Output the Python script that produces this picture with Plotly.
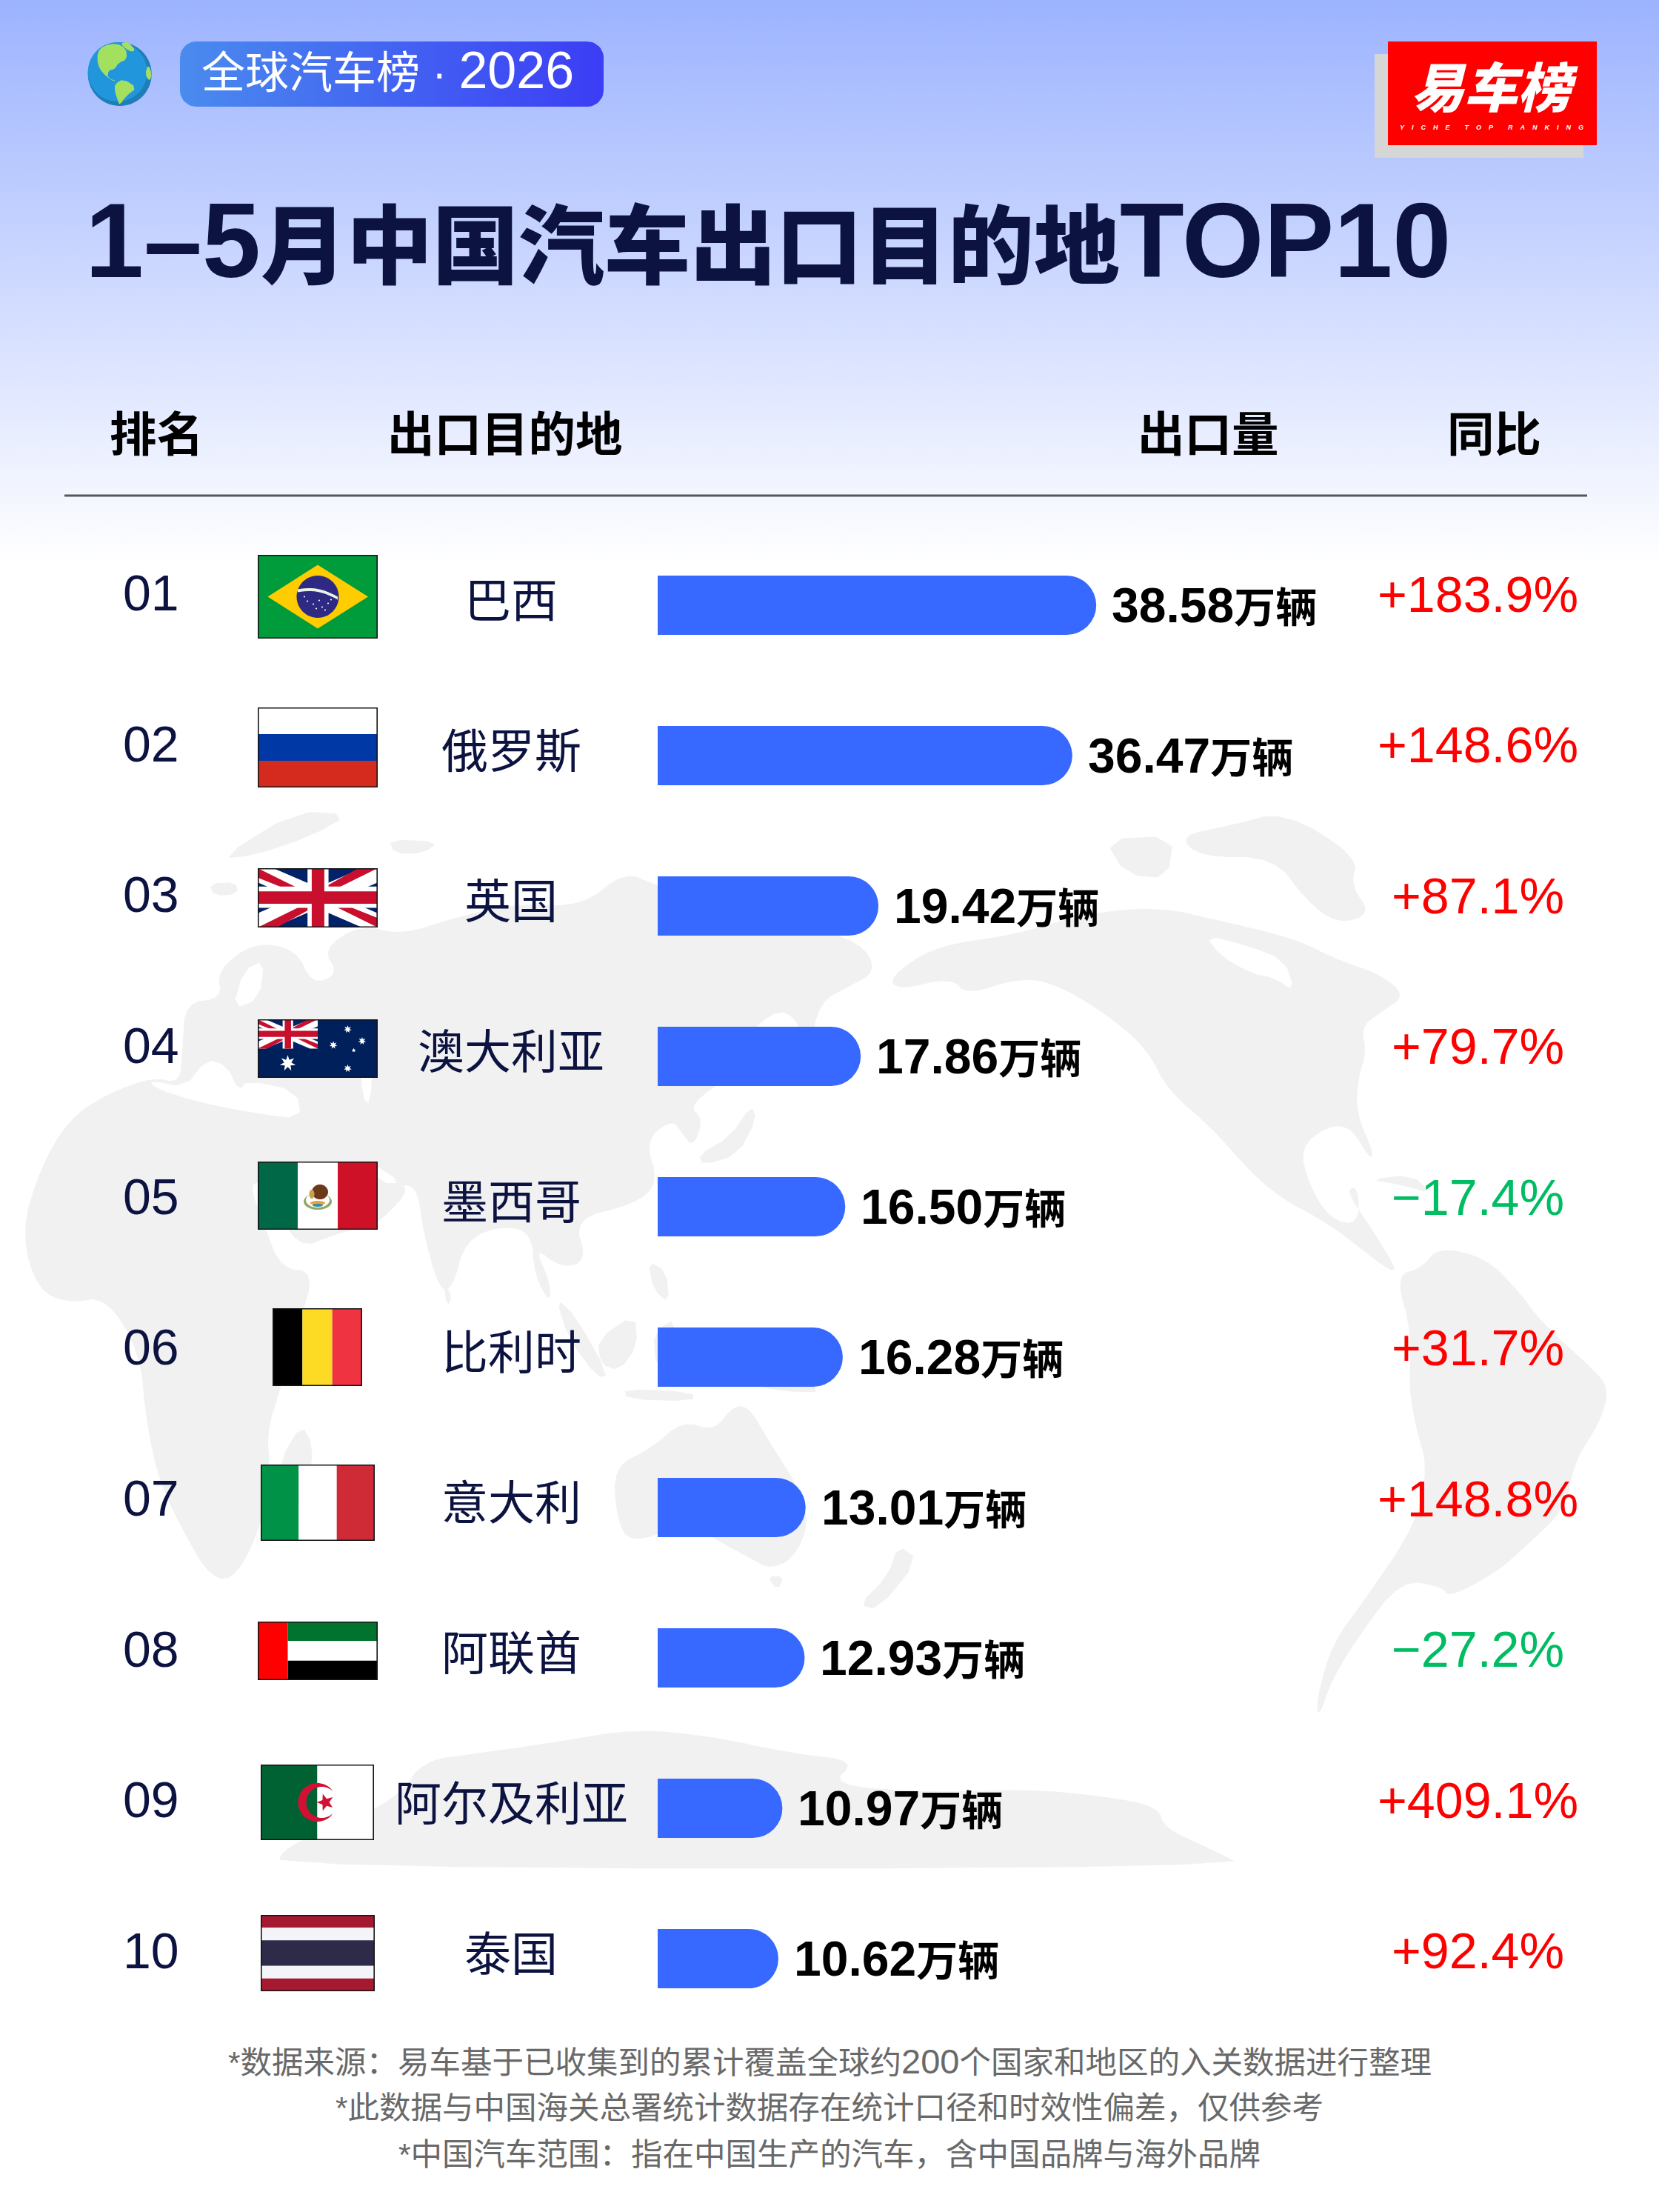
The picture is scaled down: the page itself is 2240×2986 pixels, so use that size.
import math
import plotly.graph_objects as go

# ---- data ----
ranks = ["01", "02", "03", "04", "05", "06", "07", "08", "09", "10"]
countries = ["巴西", "俄罗斯", "英国", "澳大利亚", "墨西哥", "比利时", "意大利", "阿联酋", "阿尔及利亚", "泰国"]
volumes = [38.58, 36.47, 19.42, 17.86, 16.50, 16.28, 13.01, 12.93, 10.97, 10.62]
yoy_change = [183.9, 148.6, 87.1, 79.7, -17.4, 31.7, 148.8, -27.2, 409.1, 92.4]
columns = ["排名", "出口目的地", "出口量", "同比"]
footnotes = [
    "*数据来源：易车基于已收集到的累计覆盖全球约<span style='font-size:47px'>200</span>个国家和地区的入关数据进行整理",
    "*此数据与中国海关总署统计数据存在统计口径和时效性偏差，仅供参考",
    "*中国汽车范围：指在中国生产的汽车，含中国品牌与海外品牌",
]

W, H = 2240, 2986
FONT = '"Liberation Sans","Noto Sans CJK SC",sans-serif'
NAVY = "#0C1340"
BLUE = "#3768FF"
UP, DOWN = "#FF0000", "#00BC62"

# one bar row is 203 px tall, one export unit is 15.35 px wide
X0, X_SCALE = 888.0, 15.35
Y0, ROW = 817.0, 203.0


def dx(px):
    return (px - X0) / X_SCALE


def dy(py):
    return (py - Y0) / ROW


def nx(px):
    return px / W


def ny(py):
    return 1 - py / H


shapes = []


def poly(points, color):
    path = "M " + " L ".join(f"{nx(x):.5f},{ny(y):.5f}" for x, y in points) + " Z"
    shapes.append(dict(type="path", path=path, xref="paper", yref="paper",
                       fillcolor=color, line=dict(width=0), layer="above"))


def ellipse(cx, cy, rx, ry, color, a0=0.0, a1=360.0, n=48):
    pts = [(cx + rx * math.cos(math.radians(a0 + (a1 - a0) * i / n)),
            cy + ry * math.sin(math.radians(a0 + (a1 - a0) * i / n))) for i in range(n + 1)]
    poly(pts, color)


class Box:
    """Maps 0..1 fractions onto a rectangle of the page."""

    def __init__(self, x0, y0, x1, y1):
        self.x0, self.y0, self.x1, self.y1 = x0, y0, x1, y1

    def p(self, u, v):
        return (self.x0 + (self.x1 - self.x0) * u, self.y0 + (self.y1 - self.y0) * v)

    def quad(self, u0, v0, u1, v1, color):
        poly([self.p(u0, v0), self.p(u1, v0), self.p(u1, v1), self.p(u0, v1)], color)

    def pts(self, uv, color):
        poly([self.p(u, v) for u, v in uv], color)


def star(cx, cy, r, color, spikes=5, inner=0.42, rot=-90):
    pts = []
    for i in range(spikes * 2):
        rad = r if i % 2 == 0 else r * inner
        a = math.radians(rot + i * 180 / spikes)
        pts.append((cx + rad * math.cos(a), cy + rad * math.sin(a)))
    poly(pts, color)


def union_jack(b):
    navy, red = "#012169", "#C8102E"
    b.quad(0, 0, 1, 1, navy)
    b.pts([(0, 0), (.13, 0), (1, .76), (1, 1), (.87, 1), (0, .24)], "#FFFFFF")
    b.pts([(1, 0), (.87, 0), (0, .76), (0, 1), (.13, 1), (1, .24)], "#FFFFFF")
    b.pts([(0, 0), (.5, .5), (.42, .5), (0, .16)], red)
    b.pts([(1, 1), (.5, .5), (.58, .5), (1, .84)], red)
    b.pts([(1, 0), (.5, .5), (.5, .38), (.84, 0)], red)
    b.pts([(0, 1), (.5, .5), (.5, .62), (.16, 1)], red)
    b.quad(.415, 0, .59, 1, "#FFFFFF")
    b.quad(0, .31, 1, .67, "#FFFFFF")
    b.quad(.45, 0, .555, 1, red)
    b.quad(0, .39, 1, .6, red)


def flag_frame(x0, y0, x1, y1):
    t = 1.6
    for a in ([(x0, y0), (x1, y0), (x1, y0 + t), (x0, y0 + t)],
              [(x0, y1 - t), (x1, y1 - t), (x1, y1), (x0, y1)],
              [(x0, y0), (x0 + t, y0), (x0 + t, y1), (x0, y1)],
              [(x1 - t, y0), (x1, y0), (x1, y1), (x1 - t, y1)]):
        poly(a, "#151515")


def flag_brazil(b):
    b.quad(0, 0, 1, 1, "#009B3A")
    b.pts([(.083, .5), (.5, .12), (.92, .5), (.5, .88)], "#FFCC00")
    cx, cy = b.p(.5, .5)
    ellipse(cx, cy, 28.5, 28.5, "#2E2A84")
    arc = [(cx - 27 + 54 * i / 12, cy - 10 + 10 * (i / 12) ** 2 * 1.0 + (-3 * math.sin(math.pi * i / 12))) for i in range(13)]
    poly(arc + [(x, y + 4) for x, y in reversed(arc)], "#E9F3E6")
    for ox, oy in [(-14, 6), (-6, 10), (2, 5), (6, 14), (14, 9), (-2, 16), (10, 18), (-18, 0), (18, 4)]:
        ellipse(cx + ox, cy + oy, 1.1, 1.1, "#FFFFFF", n=8)


def flag_russia(b):
    b.quad(0, 0, 1, 1 / 3, "#FFFFFF")
    b.quad(0, 1 / 3, 1, 2 / 3, "#0039A6")
    b.quad(0, 2 / 3, 1, 1, "#D52B1E")


def flag_uk(b):
    union_jack(b)


def flag_australia(b):
    b.quad(0, 0, 1, 1, "#00205B")
    union_jack(Box(b.x0, b.y0, b.x0 + (b.x1 - b.x0) * .5, b.y0 + (b.y1 - b.y0) * .5))
    white = "#FFFFFF"
    for u, v, r, n in [(.25, .75, 11, 7), (.75, .17, 5.5, 7), (.63, .44, 5.5, 7), (.87, .37, 5.5, 7),
                       (.80, .53, 3, 5), (.75, .84, 5.5, 7)]:
        x, y = b.p(u, v)
        star(x, y, r, white, spikes=n, inner=.45)


def flag_mexico(b):
    b.quad(0, 0, 1 / 3, 1, "#006847")
    b.quad(1 / 3, 0, 2 / 3, 1, "#FFFFFF")
    b.quad(2 / 3, 0, 1, 1, "#CE1126")
    cx, cy = b.p(.5, .5)
    ellipse(cx, cy + 8, 19, 11, "#93A768")
    ellipse(cx, cy + 6, 16, 10, "#FFFFFF")
    ellipse(cx, cy + 10, 10, 3, "#E8A33A")
    ellipse(cx, cy + 13, 7, 2, "#2E8FA8")
    ellipse(cx + 3, cy - 5, 11, 10, "#6B3A1A")
    ellipse(cx - 8, cy - 2, 3.5, 6, "#C9A24A")


def flag_belgium(b):
    b.quad(0, 0, 1 / 3, 1, "#000000")
    b.quad(1 / 3, 0, 2 / 3, 1, "#FDDA24")
    b.quad(2 / 3, 0, 1, 1, "#EF3340")


def flag_italy(b):
    b.quad(0, 0, 1 / 3, 1, "#009246")
    b.quad(1 / 3, 0, 2 / 3, 1, "#FFFFFF")
    b.quad(2 / 3, 0, 1, 1, "#CE2B37")


def flag_uae(b):
    b.quad(.25, 0, 1, 1 / 3, "#00732F")
    b.quad(.25, 1 / 3, 1, 2 / 3, "#FFFFFF")
    b.quad(.25, 2 / 3, 1, 1, "#000000")
    b.quad(0, 0, .25, 1, "#FF0000")


def flag_algeria(b):
    red = "#D21034"
    b.quad(0, 0, .5, 1, "#006233")
    b.quad(.5, 0, 1, 1, "#FFFFFF")
    cx, cy = b.p(.5, .5)
    outer = [(cx + 26 * math.cos(math.radians(a)), cy + 26 * math.sin(math.radians(a))) for a in range(45, 316, 5)]
    inner = [(cx + 6 + 21 * math.cos(math.radians(a)), cy + 21 * math.sin(math.radians(a))) for a in range(315, 44, -5)]
    poly(outer + inner, red)
    star(cx + 11, cy, 12, red, rot=180)


def flag_thailand(b):
    b.quad(0, 0, 1, 1 / 6, "#A51931")
    b.quad(0, 1 / 6, 1, 2 / 6, "#F4F5F8")
    b.quad(0, 2 / 6, 1, 4 / 6, "#2D2A4A")
    b.quad(0, 4 / 6, 1, 5 / 6, "#F4F5F8")
    b.quad(0, 5 / 6, 1, 1, "#A51931")


flags = [
    (flag_brazil, 348, 749, 510, 862),
    (flag_russia, 348, 955, 510, 1063),
    (flag_uk, 348, 1172, 510, 1252),
    (flag_australia, 348, 1376, 510, 1455),
    (flag_mexico, 348, 1568, 510, 1660),
    (flag_belgium, 368, 1766, 489, 1871),
    (flag_italy, 352, 1977, 506, 2080),
    (flag_uae, 348, 2189, 510, 2268),
    (flag_algeria, 352, 2382, 505, 2484),
    (flag_thailand, 352, 2585, 506, 2688),
]

# ---- pale world map behind the rows, Pacific in the centre ----
# outlines are sketched on a grid of 1.4 units per px across and 1.045 units per px down


def map_point(u, v):
    return (u / 1.4, 1090 + v / 1.0453)


def smooth(points, rounds=2):
    for _ in range(rounds):
        out = []
        for i, (x0, y0) in enumerate(points):
            x1, y1 = points[(i + 1) % len(points)]
            out.append((.75 * x0 + .25 * x1, .75 * y0 + .25 * y1))
            out.append((.25 * x0 + .75 * x1, .25 * y0 + .75 * y1))
        points = out
    return points


def land(outline, color="#F1F1F2", rounds=2):
    pts = [map_point(u, v) for u, v in outline]
    path = "M " + " L ".join(f"{nx(x):.5f},{ny(y):.5f}" for x, y in smooth(pts, rounds)) + " Z"
    shapes.append(dict(type="path", path=path, xref="paper", yref="paper",
                       fillcolor=color, line=dict(width=0), layer="below"))


E = 1568  # east half of the grid starts here
afro_eurasia = [
    (75, 510), (40, 600), (70, 680), (130, 700), (200, 690), (265, 770), (275, 860), (300, 950), (345, 1020),
    (400, 1090), (450, 1085), (500, 1000), (510, 930), (505, 880), (530, 820), (565, 730), (595, 655), (530, 650),
    (500, 590), (470, 530), (505, 530), (560, 625), (640, 600), (710, 590), (770, 545), (760, 530), (790, 540),
    (800, 600), (830, 680), (855, 680), (880, 610), (950, 590), (1005, 600), (1010, 660), (1040, 700), (1040, 670),
    (1010, 620), (1060, 650), (1110, 640), (1085, 580), (1200, 560), (1245, 530), (1220, 470), (1270, 440),
    (1290, 460), (1310, 480), (1330, 440), (1300, 420), (1400, 370), (1420, 310), (1490, 280), (1530, 340),
    (1550, 275), (E + 30, 255), (E + 90, 232), (E + 60, 190), (E - 60, 165), (1380, 140), (1240, 110), (1180, 90),
    (1100, 140), (980, 135), (860, 155), (760, 180), (680, 165), (610, 200), (640, 235), (590, 250), (560, 200),
    (480, 190), (410, 230), (420, 270), (350, 275), (345, 340), (340, 390), (290, 380), (200, 405), (130, 440),
]
north_america = [(E + u, v) for u, v in [
    (112, 240), (200, 195), (350, 180), (480, 150), (620, 140), (740, 160), (880, 185), (960, 215), (1040, 235),
    (1090, 265), (1040, 290), (1005, 310), (1015, 345), (1000, 380), (995, 430), (1030, 490), (1020, 495),
    (985, 450), (940, 450), (890, 480), (905, 530), (945, 580), (1000, 590), (1000, 535), (975, 540), (1030, 600),
    (1075, 655), (1050, 650), (950, 590), (850, 550), (790, 510), (720, 450), (640, 400), (600, 340), (520, 290),
    (430, 250), (360, 240), (260, 265), (230, 240), (130, 258),
]]
south_america = [(E + u, v) for u, v in [
    (1070, 660), (1120, 650), (1150, 620), (1240, 635), (1300, 680), (1350, 730), (1440, 790), (1475, 820),
    (1455, 870), (1410, 920), (1390, 990), (1320, 1040), (1260, 1080), (1170, 1115), (1160, 1100), (1080, 1090),
    (1000, 1170), (950, 1230), (925, 1285), (920, 1260), (950, 1180), (1010, 1120), (1110, 1010), (1130, 930),
    (1110, 880), (1095, 820), (1100, 740),
]]
australia = [(1160, 930), (1230, 905), (1290, 865), (1350, 880), (1385, 845), (1415, 845), (1450, 890), (1510, 960),
             (1530, 1010), (1500, 1060), (1455, 1075), (1420, 1060), (1370, 1040), (1300, 1010), (1190, 1040),
             (1165, 1000)]
antarctica = [(520, 1497), (540, 1465), (680, 1425), (760, 1390), (800, 1345), (900, 1335), (1040, 1320), (1200, 1300),
              (1340, 1310), (1500, 1335), (1620, 1345), (1568, 1380), (1768, 1390), (1938, 1385), (2088, 1395),
              (2190, 1410), (2200, 1440), (2290, 1470), (2360, 1497)]
greenland = [(E + u, v) for u, v in [(660, 40), (760, 25), (860, 5), (1000, 70), (985, 110), (1025, 150), (960, 165),
                                     (900, 130), (840, 70), (700, 70)]]
islands = [
    [(415, 72), (560, 5), (660, 10), (590, 40), (480, 68)],
    [(395, 108), (445, 105), (450, 122), (405, 125)],
    [(735, 45), (830, 48), (800, 65), (745, 65)],
    [(570, 870), (592, 900), (585, 950), (548, 1010), (522, 985), (530, 920)],
    [(838, 670), (855, 690), (845, 705)],
    [(1050, 690), (1090, 720), (1150, 800), (1130, 805), (1075, 750)],
    [(1130, 750), (1200, 715), (1205, 760), (1170, 795), (1135, 785)],
    [(1180, 820), (1310, 825), (1310, 838), (1185, 835)],
    [(1235, 740), (1280, 720), (1265, 790), (1240, 790)],
    [(1390, 790), (1480, 790), (1560, 825), (1490, 825), (1420, 815)],
    [(1320, 490), (1380, 465), (1420, 420), (1430, 440), (1395, 490), (1330, 505)],
    [(1225, 640), (1260, 655), (1265, 700), (1235, 680)],
    [(1450, 1085), (1482, 1085), (1470, 1105)],
    [(E + 55, 1125), (E + 110, 1085), (E + 130, 1040), (E + 168, 1062), (E + 92, 1132)],
    [(E + 1020, 525), (E + 1100, 518), (E + 1140, 545), (E + 1075, 532)],
    [(E + 520, 45), (E + 650, 40), (E + 640, 100), (E + 560, 95)],
]
inland_waters = [
    [(285, 385), (350, 395), (390, 355), (430, 365), (450, 400), (470, 385), (560, 400), (570, 440), (470, 430),
     (370, 415), (290, 395)],
    [(540, 335), (610, 325), (625, 355), (560, 365)],
    [(460, 230), (500, 215), (490, 270), (440, 285)],
    [(680, 340), (705, 345), (700, 420), (685, 410)],
    [(700, 500), (760, 530), (720, 530)],
    [(E + 710, 180), (E + 790, 195), (E + 860, 215), (E + 880, 260), (E + 840, 240), (E + 800, 235), (E + 740, 210)],
]
for outline in [afro_eurasia, north_america, south_america, australia, antarctica, greenland]:
    land(outline)
for outline in islands:
    land(outline, rounds=1)
for outline in inland_waters:
    land(outline, color="#FFFFFF", rounds=1)

# ---- header art ----
ellipse(161.7, 100, 43, 43, "#1F7DB8", n=72)
ellipse(158.7, 97, 40, 40, "#2196DC", n=72)


def globe_land(points):
    poly([(100 + u / 3, 30 + v / 3) for u, v in smooth(points, 1)], "#A4E060")


globe_land([(120, 95), (170, 85), (210, 105), (215, 150), (180, 165), (165, 190), (140, 195), (135, 225), (175, 240),
            (150, 235), (115, 205), (95, 170), (95, 120)])
globe_land([(165, 250), (200, 230), (255, 265), (210, 300), (185, 335), (178, 320), (165, 280)])
globe_land([(185, 85), (220, 80), (250, 115), (225, 120)])
globe_land([(300, 170), (316, 210), (305, 240), (288, 210)])

Box(1856, 73, 2138, 213).quad(0, 0, 1, 1, "#D6D6D6")
Box(1874, 56, 2156, 196).quad(0, 0, 1, 1, "#FF0000")

header_line = Box(87, 667.5, 2143, 670.5)
header_line.quad(0, 0, 1, 1, "#565656")

for draw, x0, y0, x1, y1 in flags:
    draw(Box(x0, y0, x1, y1))
    flag_frame(x0, y0, x1, y1)

# ---- traces ----
fig = go.Figure()

page_x = [dx(0), dx(W), dx(W), dx(0), dx(0)]
page_y = [dy(0), dy(0), dy(760), dy(760), dy(0)]
fig.add_trace(go.Scatter(
    x=page_x, y=page_y, mode="lines", line=dict(width=0), fill="toself", hoverinfo="skip",
    fillgradient=dict(type="vertical", colorscale=[[0, "#FFFFFF"], [1, "#9CB3FF"]]),
))


def rounded_rect(x0, y0, x1, y1, r, n=10):
    pts = []
    corners = [(x1 - r, y0 + r, -90), (x1 - r, y1 - r, 0), (x0 + r, y1 - r, 90), (x0 + r, y0 + r, 180)]
    for cx, cy, start in corners:
        for i in range(n + 1):
            a = math.radians(start + 90 * i / n)
            pts.append((cx + r * math.cos(a), cy + r * math.sin(a)))
    pts.append(pts[0])
    return pts


pill = rounded_rect(243, 56, 815, 144, 22)
fig.add_trace(go.Scatter(
    x=[dx(p[0]) for p in pill], y=[dy(p[1]) for p in pill], mode="lines", line=dict(width=0),
    fill="toself", hoverinfo="skip",
    fillgradient=dict(type="horizontal", colorscale=[[0, "#4A8BEE"], [1, "#3C3DF5"]]),
))

rows = list(range(len(countries)))
fig.add_trace(go.Bar(
    x=volumes, y=rows, orientation="h", width=80 / ROW,
    marker=dict(color=BLUE, cornerradius=40, line=dict(width=0)),
    customdata=countries, hovertemplate="%{customdata}: %{x}万辆<extra></extra>",
))

# ---- text ----
annotations = []


def note(text, x, y, size, color, weight=400, anchor="center", **extra):
    annotations.append(dict(
        text=text, x=nx(x), y=ny(y), xref="paper", yref="paper", showarrow=False,
        xanchor=anchor, yanchor="middle", borderpad=0,
        font=dict(family=FONT, size=size, color=color, weight=weight), **extra))


def row_note(text, x, row, shift, size, color, weight=400, anchor="center"):
    annotations.append(dict(
        text=text, x=nx(x), y=row, xref="paper", yref="y", yshift=shift, showarrow=False,
        xanchor=anchor, yanchor="middle", borderpad=0,
        font=dict(family=FONT, size=size, color=color, weight=weight)))


latin = "font-size:142px"
note(f"<span style='{latin}'>1–5</span>月中国汽车出口目的地<span style='{latin}'>TOP10</span>",
     114, 324, 116, NAVY, weight=900, anchor="left")
note("全球汽车榜 · <span style='font-size:70px'>2026</span>", 523, 95, 59, "#FFFFFF")
annotations.append(dict(
    text="易车榜", x=nx(2018), y=ny(120), xref="paper", yref="paper", showarrow=False, xanchor="center",
    yanchor="middle", font=dict(family=FONT, size=72, color="#FFFFFF", weight=900, style="italic")))
letter_gap = "\u00a0" * 4
word_gap = "\u00a0" * 8
sub_brand = word_gap.join(letter_gap.join(word) for word in ["YICHE", "TOP", "RANKING"])
annotations.append(dict(
    text=sub_brand,
    x=nx(2014), y=ny(172), xref="paper", yref="paper", showarrow=False, xanchor="center", yanchor="middle",
    font=dict(family=FONT, size=9, color="#FFFFFF", weight=700, style="italic")))

for label, x in zip(columns, [211, 682, 1631, 2017]):
    note(label, x, 587, 63.5, "#000000", weight=700)

for i in rows:
    row_note(ranks[i], 204, i, 17 - .67 * i, 68, NAVY)
    row_note(countries[i], 690, i, 6, 63, NAVY)
    annotations.append(dict(
        text=f"<span style='font-size:66px'>{volumes[i]:.2f}</span>万辆", x=volumes[i], y=i, xref="x", yref="y",
        xshift=20, showarrow=False, xanchor="left", yanchor="middle", borderpad=0,
        font=dict(family=FONT, size=56, color="#000000", weight=700)))
    change = yoy_change[i]
    label = f"+{change:.1f}%" if change >= 0 else f"−{abs(change):.1f}%"
    row_note(label, 1995, i, 15 - .45 * i, 68.2, UP if change >= 0 else DOWN)

for text, y in zip(footnotes, [2782, 2845, 2908]):
    note(text, 1120, y, 42.5, "#696969")

fig.update_layout(
    width=W, height=H, margin=dict(l=0, r=0, t=0, b=0), autosize=False, showlegend=False,
    paper_bgcolor="#FFFFFF", plot_bgcolor="rgba(0,0,0,0)",
    xaxis=dict(range=[dx(0), dx(W)], visible=False, fixedrange=True),
    yaxis=dict(range=[dy(H), dy(0)], visible=False, fixedrange=True),
    shapes=shapes, annotations=annotations,
)

fig.write_html("out.html", config=dict(displayModeBar=False))
